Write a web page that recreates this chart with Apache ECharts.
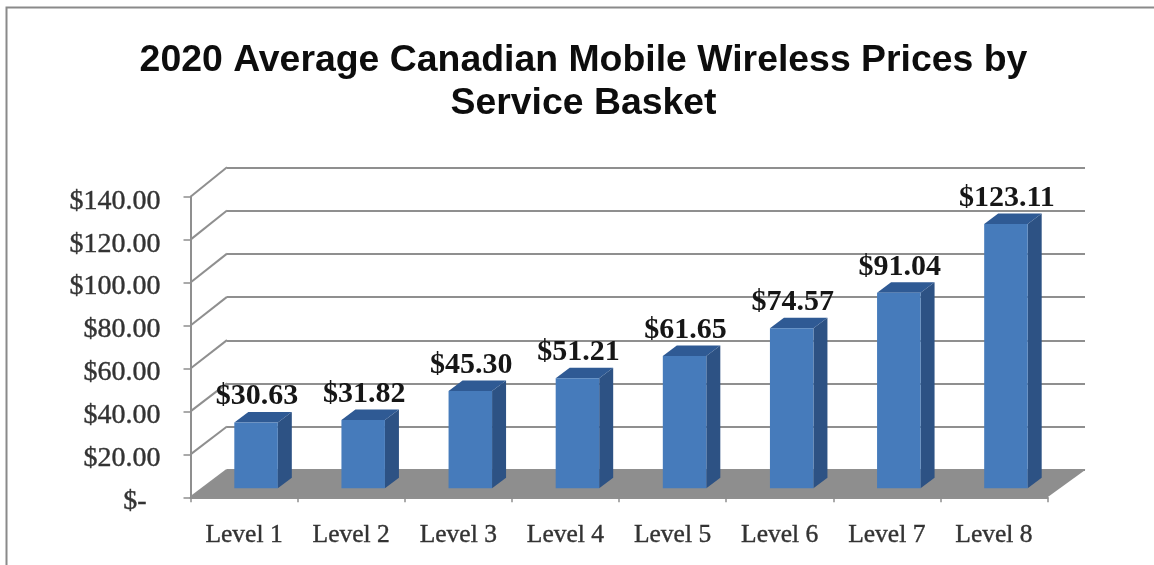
<!DOCTYPE html>
<html>
<head>
<meta charset="utf-8">
<style>html,body{margin:0;padding:0;background:#fff}#c{width:1154px;height:565px;filter:blur(0.6px)}</style>
<script src="https://cdn.jsdelivr.net/npm/echarts@6/dist/echarts.min.js"></script>
</head>
<body>
<div id="c"></div>
<script>
const titleText = "2020 Average Canadian Mobile Wireless Prices by\nService Basket";
const categories = ["Level 1","Level 2","Level 3","Level 4","Level 5","Level 6","Level 7","Level 8"];
const prices = [30.63,31.82,45.30,51.21,61.65,74.57,91.04,123.11];
const yTicks = [0,20,40,60,80,100,120,140];

const serif = '"Liberation Serif","DejaVu Serif",serif';
const gridCol = '#8f8f8f';
const wallDX = 36.5, barShiftX = 12, barShiftY = 9, barW = 43.5, barDX = 14, barDY = 10.5;
const wallDY = v => 27.5 + 2 * v / 140;
const money = v => '$' + v.toFixed(2);

const chart = echarts.init(document.getElementById('c'), null, {renderer:'canvas'});
chart.setOption({
  animation:false,
  backgroundColor:'#fff',
  title:{text:titleText,left:578.5,top:34,textAlign:'center',
    textStyle:{fontFamily:'"Liberation Sans",Arial,sans-serif',fontWeight:'bold',fontSize:37.4,lineHeight:43,color:'#0d0d0d'}},
  graphic:[
    {type:'polyline',silent:true,shape:{points:[[6.5,565],[6.5,7.5],[1154,7.5]]},style:{fill:null,stroke:'#8a8a8a',lineWidth:2}}
  ],
  grid:[
    {left:190.5,width:857,top:196.7,height:300.6},
    {left:227,width:858,top:167.3,height:302.7}
  ],
  xAxis:[
    {type:'category',gridIndex:0,data:categories,
      axisLine:{show:true,lineStyle:{color:gridCol,width:2}},
      axisTick:{show:true,length:5,alignWithLabel:false,lineStyle:{color:gridCol,width:1.5}},
      axisLabel:{color:'#333',fontFamily:serif,fontSize:25.5,margin:25,interval:0,textBorderColor:'#333',textBorderWidth:0.4},
      splitLine:{show:false}},
    {type:'value',gridIndex:1,min:0,max:1,show:false}
  ],
  yAxis:[
    {type:'value',gridIndex:0,min:0,max:140,interval:20,
      axisLine:{show:true,lineStyle:{color:gridCol,width:2}},
      axisTick:{show:true,length:7,lineStyle:{color:gridCol,width:1.5}},
      axisLabel:{color:'#333',fontFamily:serif,fontSize:28,margin:30,verticalAlign:'top',lineHeight:9,textBorderColor:'#333',textBorderWidth:0.4,
        formatter:v=>v===0?'$-  ':money(v)},
      splitLine:{show:false}},
    {type:'value',gridIndex:1,min:0,max:140,interval:20,
      axisLine:{show:false},axisTick:{show:false},axisLabel:{show:false},
      splitLine:{show:true,lineStyle:{color:gridCol,width:2}}}
  ],
  series:[
    {type:'custom',name:'walls',xAxisIndex:0,yAxisIndex:0,z:1,silent:true,
      data:yTicks.map(v=>[0,v]),encode:{x:0,y:1},
      renderItem(params,api){
        const v=api.value(1), cs=params.coordSys, y=api.coord([0,v])[1], x=cs.x;
        const children=[{type:'line',shape:{x1:x,y1:y,x2:x+wallDX,y2:y-wallDY(v)},style:{stroke:gridCol,lineWidth:2}}];
        if(v===0){
          children.unshift({type:'polygon',shape:{points:[[x,y],[x+cs.width,y],[x+cs.width+38,y-wallDY(0)],[x+wallDX,y-wallDY(0)]]},style:{fill:'#8e8e8e'}});
        }
        return {type:'group',children};
      }},
    {type:'custom',name:'Price',xAxisIndex:0,yAxisIndex:0,z:3,silent:true,
      data:prices.map((p,i)=>[i,p]),encode:{x:0,y:1},
      renderItem(params,api){
        const c=api.value(0), v=api.value(1);
        const base=api.coord([c,0]), top=api.coord([c,v]);
        const cx=base[0]+barShiftX, l=cx-barW/2, r=cx+barW/2, b=base[1]-barShiftY, t=top[1]-barShiftY;
        return {type:'group',children:[
          {type:'polygon',shape:{points:[[r,b],[r+barDX,b-barDY],[r+barDX,t-barDY],[r,t]]},style:{fill:'#2d5284'}},
          {type:'polygon',shape:{points:[[l,t],[r,t],[r+barDX,t-barDY],[l+barDX,t-barDY]]},style:{fill:'#2f5a94'}},
          {type:'rect',shape:{x:l,y:t,width:barW,height:b-t},style:{fill:'#467bbb'}},
          {type:'text',style:{text:money(v),x:cx+1,y:t-26,fill:'#161616',font:'bold 30px '+serif,textAlign:'center',textVerticalAlign:'middle'}}
        ]};
      }}
  ]
});
</script>
</body>
</html>
